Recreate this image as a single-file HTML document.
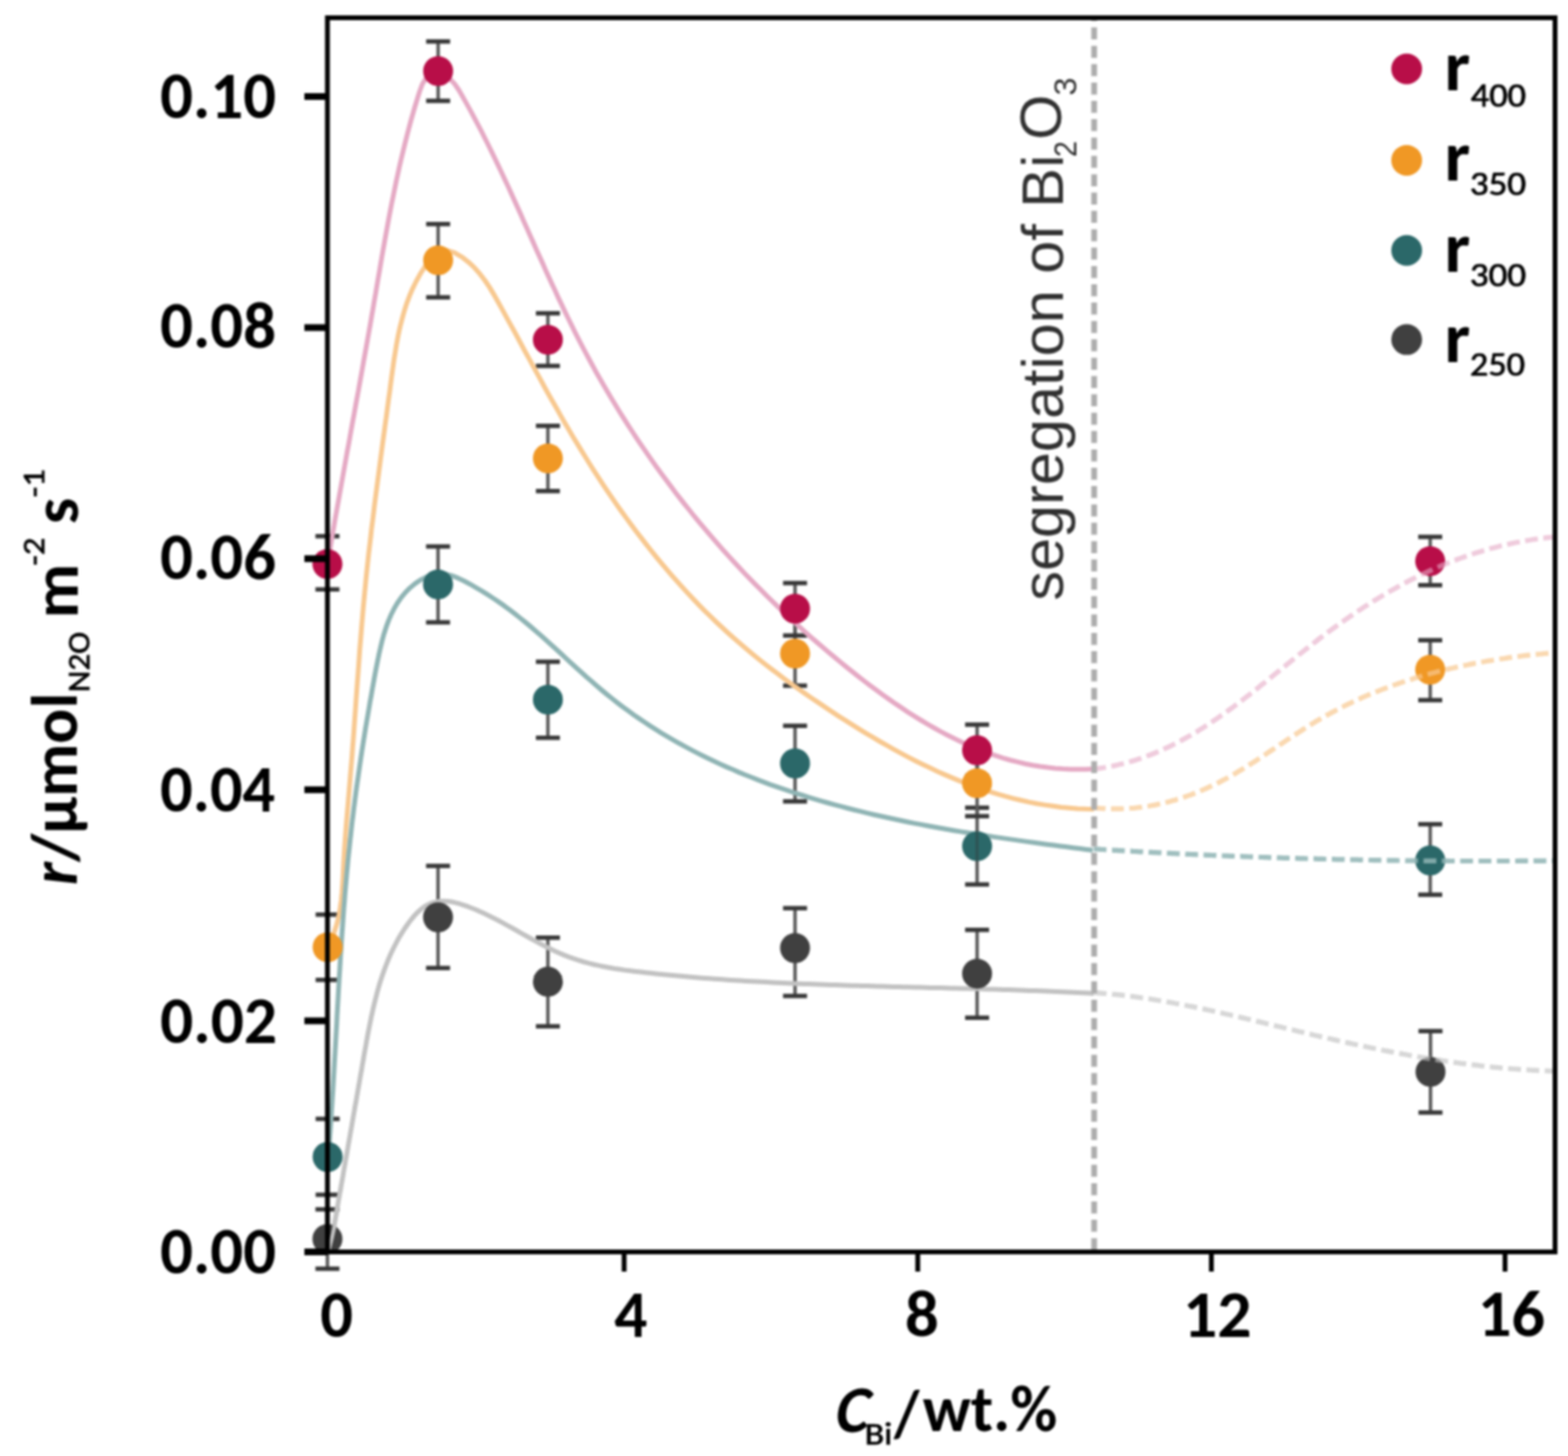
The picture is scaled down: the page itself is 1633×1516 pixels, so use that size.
<!DOCTYPE html>
<html><head><meta charset="utf-8"><title>Reaction rate vs Bi content</title>
<style>html,body{margin:0;padding:0;background:#fff;}svg{display:block;filter:blur(0.8px);}</style></head>
<body>
<svg width="1633" height="1516" viewBox="0 0 1633 1516">
<rect width="1633" height="1516" fill="#fff"/>
<line x1="341" y1="1259.2" x2="341" y2="1321" stroke="#5a5a5a" stroke-width="3.6"/>
<line x1="328.5" y1="1259.2" x2="353.5" y2="1259.2" stroke="#383838" stroke-width="4.6"/>
<line x1="328.5" y1="1321" x2="353.5" y2="1321" stroke="#383838" stroke-width="4.6"/>
<line x1="456.2" y1="901.6" x2="456.2" y2="1007.9" stroke="#5a5a5a" stroke-width="3.6"/>
<line x1="443.7" y1="901.6" x2="468.7" y2="901.6" stroke="#383838" stroke-width="4.6"/>
<line x1="443.7" y1="1007.9" x2="468.7" y2="1007.9" stroke="#383838" stroke-width="4.6"/>
<line x1="570.6" y1="976.3" x2="570.6" y2="1068.6" stroke="#5a5a5a" stroke-width="3.6"/>
<line x1="558.1" y1="976.3" x2="583.1" y2="976.3" stroke="#383838" stroke-width="4.6"/>
<line x1="558.1" y1="1068.6" x2="583.1" y2="1068.6" stroke="#383838" stroke-width="4.6"/>
<line x1="828" y1="945.6" x2="828" y2="1037" stroke="#5a5a5a" stroke-width="3.6"/>
<line x1="815.5" y1="945.6" x2="840.5" y2="945.6" stroke="#383838" stroke-width="4.6"/>
<line x1="815.5" y1="1037" x2="840.5" y2="1037" stroke="#383838" stroke-width="4.6"/>
<line x1="1017.6" y1="968.2" x2="1017.6" y2="1059.7" stroke="#5a5a5a" stroke-width="3.6"/>
<line x1="1005.1" y1="968.2" x2="1030.1" y2="968.2" stroke="#383838" stroke-width="4.6"/>
<line x1="1005.1" y1="1059.7" x2="1030.1" y2="1059.7" stroke="#383838" stroke-width="4.6"/>
<line x1="1489.8" y1="1073.6" x2="1489.8" y2="1158.4" stroke="#5a5a5a" stroke-width="3.6"/>
<line x1="1477.3" y1="1073.6" x2="1502.3" y2="1073.6" stroke="#383838" stroke-width="4.6"/>
<line x1="1477.3" y1="1158.4" x2="1502.3" y2="1158.4" stroke="#383838" stroke-width="4.6"/>
<line x1="341.2" y1="1165" x2="341.2" y2="1244" stroke="#5a5a5a" stroke-width="3.6"/>
<line x1="328.7" y1="1165" x2="353.7" y2="1165" stroke="#383838" stroke-width="4.6"/>
<line x1="328.7" y1="1244" x2="353.7" y2="1244" stroke="#383838" stroke-width="4.6"/>
<line x1="456.2" y1="569" x2="456.2" y2="648" stroke="#5a5a5a" stroke-width="3.6"/>
<line x1="443.7" y1="569" x2="468.7" y2="569" stroke="#383838" stroke-width="4.6"/>
<line x1="443.7" y1="648" x2="468.7" y2="648" stroke="#383838" stroke-width="4.6"/>
<line x1="570.6" y1="689" x2="570.6" y2="768.2" stroke="#5a5a5a" stroke-width="3.6"/>
<line x1="558.1" y1="689" x2="583.1" y2="689" stroke="#383838" stroke-width="4.6"/>
<line x1="558.1" y1="768.2" x2="583.1" y2="768.2" stroke="#383838" stroke-width="4.6"/>
<line x1="828" y1="755.7" x2="828" y2="834.4" stroke="#5a5a5a" stroke-width="3.6"/>
<line x1="815.5" y1="755.7" x2="840.5" y2="755.7" stroke="#383838" stroke-width="4.6"/>
<line x1="815.5" y1="834.4" x2="840.5" y2="834.4" stroke="#383838" stroke-width="4.6"/>
<line x1="1017.6" y1="841" x2="1017.6" y2="920.9" stroke="#5a5a5a" stroke-width="3.6"/>
<line x1="1005.1" y1="841" x2="1030.1" y2="841" stroke="#383838" stroke-width="4.6"/>
<line x1="1005.1" y1="920.9" x2="1030.1" y2="920.9" stroke="#383838" stroke-width="4.6"/>
<line x1="1489.5" y1="858.2" x2="1489.5" y2="931.6" stroke="#5a5a5a" stroke-width="3.6"/>
<line x1="1477.0" y1="858.2" x2="1502.0" y2="858.2" stroke="#383838" stroke-width="4.6"/>
<line x1="1477.0" y1="931.6" x2="1502.0" y2="931.6" stroke="#383838" stroke-width="4.6"/>
<line x1="341.2" y1="952.3" x2="341.2" y2="1020.3" stroke="#5a5a5a" stroke-width="3.6"/>
<line x1="328.7" y1="952.3" x2="353.7" y2="952.3" stroke="#383838" stroke-width="4.6"/>
<line x1="328.7" y1="1020.3" x2="353.7" y2="1020.3" stroke="#383838" stroke-width="4.6"/>
<line x1="456.3" y1="233.3" x2="456.3" y2="309.6" stroke="#5a5a5a" stroke-width="3.6"/>
<line x1="443.8" y1="233.3" x2="468.8" y2="233.3" stroke="#383838" stroke-width="4.6"/>
<line x1="443.8" y1="309.6" x2="468.8" y2="309.6" stroke="#383838" stroke-width="4.6"/>
<line x1="570.6" y1="443.4" x2="570.6" y2="511.3" stroke="#5a5a5a" stroke-width="3.6"/>
<line x1="558.1" y1="443.4" x2="583.1" y2="443.4" stroke="#383838" stroke-width="4.6"/>
<line x1="558.1" y1="511.3" x2="583.1" y2="511.3" stroke="#383838" stroke-width="4.6"/>
<line x1="828" y1="641" x2="828" y2="713.9" stroke="#5a5a5a" stroke-width="3.6"/>
<line x1="815.5" y1="641" x2="840.5" y2="641" stroke="#383838" stroke-width="4.6"/>
<line x1="815.5" y1="713.9" x2="840.5" y2="713.9" stroke="#383838" stroke-width="4.6"/>
<line x1="1017.6" y1="781.2" x2="1017.6" y2="849.8" stroke="#5a5a5a" stroke-width="3.6"/>
<line x1="1005.1" y1="781.2" x2="1030.1" y2="781.2" stroke="#383838" stroke-width="4.6"/>
<line x1="1005.1" y1="849.8" x2="1030.1" y2="849.8" stroke="#383838" stroke-width="4.6"/>
<line x1="1489.5" y1="666.6" x2="1489.5" y2="729" stroke="#5a5a5a" stroke-width="3.6"/>
<line x1="1477.0" y1="666.6" x2="1502.0" y2="666.6" stroke="#383838" stroke-width="4.6"/>
<line x1="1477.0" y1="729" x2="1502.0" y2="729" stroke="#383838" stroke-width="4.6"/>
<line x1="341" y1="558.3" x2="341" y2="613.7" stroke="#5a5a5a" stroke-width="3.6"/>
<line x1="328.5" y1="558.3" x2="353.5" y2="558.3" stroke="#383838" stroke-width="4.6"/>
<line x1="328.5" y1="613.7" x2="353.5" y2="613.7" stroke="#383838" stroke-width="4.6"/>
<line x1="456.3" y1="43.2" x2="456.3" y2="105" stroke="#5a5a5a" stroke-width="3.6"/>
<line x1="443.8" y1="43.2" x2="468.8" y2="43.2" stroke="#383838" stroke-width="4.6"/>
<line x1="443.8" y1="105" x2="468.8" y2="105" stroke="#383838" stroke-width="4.6"/>
<line x1="570.6" y1="326.2" x2="570.6" y2="381" stroke="#5a5a5a" stroke-width="3.6"/>
<line x1="558.1" y1="326.2" x2="583.1" y2="326.2" stroke="#383838" stroke-width="4.6"/>
<line x1="558.1" y1="381" x2="583.1" y2="381" stroke="#383838" stroke-width="4.6"/>
<line x1="828" y1="607.1" x2="828" y2="661.7" stroke="#5a5a5a" stroke-width="3.6"/>
<line x1="815.5" y1="607.1" x2="840.5" y2="607.1" stroke="#383838" stroke-width="4.6"/>
<line x1="815.5" y1="661.7" x2="840.5" y2="661.7" stroke="#383838" stroke-width="4.6"/>
<line x1="1017.6" y1="754.5" x2="1017.6" y2="807.9" stroke="#5a5a5a" stroke-width="3.6"/>
<line x1="1005.1" y1="754.5" x2="1030.1" y2="754.5" stroke="#383838" stroke-width="4.6"/>
<line x1="1005.1" y1="807.9" x2="1030.1" y2="807.9" stroke="#383838" stroke-width="4.6"/>
<line x1="1489.5" y1="559" x2="1489.5" y2="609.3" stroke="#5a5a5a" stroke-width="3.6"/>
<line x1="1477.0" y1="559" x2="1502.0" y2="559" stroke="#383838" stroke-width="4.6"/>
<line x1="1477.0" y1="609.3" x2="1502.0" y2="609.3" stroke="#383838" stroke-width="4.6"/>
<path d="M341.1,586.9 L342.4,579.1 L343.8,571.3 L345.1,563.5 L346.4,555.8 L347.8,548.0 L349.1,540.2 L350.5,532.4 L351.9,524.5 L353.3,516.7 L354.7,508.9 L356.1,501.1 L357.5,493.3 L358.9,485.4 L360.3,477.6 L361.7,469.8 L363.2,462.0 L364.6,454.1 L366.0,446.3 L367.4,438.5 L368.9,430.6 L370.3,422.8 L371.7,415.0 L373.2,407.1 L374.6,399.3 L376.0,391.5 L377.4,383.6 L378.8,375.8 L380.2,368.0 L381.6,360.2 L383.0,352.4 L384.4,344.6 L385.8,336.8 L387.1,329.0 L388.5,321.2 L389.8,313.4 L391.2,305.6 L392.5,297.9 L393.8,290.1 L395.2,282.3 L396.5,274.6 L397.8,266.8 L399.2,259.0 L400.6,251.3 L402.0,243.5 L403.4,235.7 L404.8,228.0 L406.3,220.2 L407.8,212.4 L409.4,204.7 L411.0,196.9 L412.6,189.1 L414.3,181.3 L416.0,173.5 L417.8,165.7 L419.7,157.9 L421.6,150.1 L423.6,142.2 L425.6,134.4 L427.7,126.5 L429.9,118.7 L432.2,110.8 L434.6,102.9 L437.1,95.0 L439.9,87.5 L443.8,81.3 L449.1,77.1 L455.4,75.8 L462.0,77.6 L468.2,81.8 L473.5,87.4 L478.0,94.0 L482.0,100.9 L485.9,107.9 L489.8,114.9 L493.6,122.0 L497.4,129.1 L501.1,136.2 L504.7,143.3 L508.3,150.5 L511.8,157.7 L515.3,164.9 L518.8,172.1 L522.2,179.3 L525.6,186.6 L529.0,193.8 L532.3,201.1 L535.6,208.4 L538.9,215.6 L542.2,222.9 L545.4,230.2 L548.7,237.5 L551.9,244.8 L555.2,252.1 L558.4,259.4 L561.7,266.6 L565.0,273.9 L568.2,281.2 L571.5,288.4 L574.8,295.6 L578.2,302.8 L581.5,310.1 L584.9,317.2 L588.3,324.4 L591.8,331.5 L595.3,338.7 L598.8,345.8 L602.4,352.8 L606.0,359.9 L609.7,366.9 L613.4,373.8 L617.2,380.8 L621.0,387.7 L624.9,394.6 L628.9,401.4 L632.9,408.3 L636.9,415.0 L641.0,421.8 L645.1,428.5 L649.3,435.2 L653.6,441.9 L657.9,448.5 L662.2,455.1 L666.6,461.7 L671.1,468.2 L675.6,474.7 L680.1,481.1 L684.7,487.6 L689.4,493.9 L694.1,500.3 L698.8,506.6 L703.6,512.9 L708.4,519.1 L713.3,525.4 L718.3,531.5 L723.2,537.7 L728.3,543.8 L733.4,549.9 L738.5,555.9 L743.7,561.9 L748.9,567.8 L754.1,573.8 L759.4,579.6 L764.8,585.5 L770.2,591.3 L775.6,597.1 L781.1,602.8 L786.7,608.5 L792.3,614.1 L797.9,619.8 L803.5,625.3 L809.3,630.9 L815.0,636.4 L820.8,641.8 L826.7,647.2 L832.6,652.6 L838.5,658.0 L844.5,663.3 L850.5,668.5 L856.5,673.7 L862.6,678.9 L868.8,684.0 L875.0,689.1 L881.2,694.2 L887.5,699.2 L893.8,704.2 L900.1,709.1 L906.5,713.9 L913.0,718.7 L919.4,723.5 L926.0,728.1 L932.5,732.7 L939.2,737.2 L945.8,741.6 L952.6,745.9 L959.3,750.0 L966.2,754.1 L973.0,758.0 L980.0,761.9 L986.9,765.5 L994.0,769.1 L1001.1,772.5 L1008.2,775.7 L1015.4,778.8 L1022.7,781.7 L1030.0,784.4 L1037.4,786.9 L1044.9,789.3 L1052.4,791.5 L1060.0,793.4 L1067.6,795.2 L1075.3,796.7 L1083.1,798.0 L1090.9,799.1 L1098.8,800.0 L1106.8,800.6 L1114.8,800.9 L1123.0,801.0 L1131.2,800.9 L1139.4,800.5" fill="none" stroke="#e5a9c4" stroke-width="5" stroke-linejoin="round"/>
<path d="M341.0,986.0 L344.9,978.4 L348.1,970.6 L350.7,962.6 L352.7,954.4 L354.2,946.2 L355.4,937.8 L356.2,929.3 L356.8,920.8 L357.3,912.3 L357.7,903.8 L358.1,895.3 L358.6,886.8 L359.2,878.3 L359.8,869.9 L360.4,861.5 L361.1,853.2 L361.8,844.8 L362.5,836.4 L363.2,828.1 L363.9,819.7 L364.6,811.3 L365.3,803.0 L366.0,794.6 L366.7,786.2 L367.3,777.8 L368.0,769.3 L368.6,760.9 L369.2,752.4 L369.8,744.0 L370.4,735.5 L371.0,727.0 L371.6,718.6 L372.2,710.1 L372.9,701.6 L373.5,693.1 L374.1,684.7 L374.7,676.2 L375.4,667.7 L376.1,659.3 L376.8,650.8 L377.5,642.4 L378.2,634.0 L379.0,625.5 L379.8,617.1 L380.6,608.7 L381.4,600.4 L382.3,592.0 L383.2,583.6 L384.1,575.3 L385.1,567.0 L386.1,558.6 L387.0,550.3 L388.1,542.0 L389.1,533.7 L390.1,525.3 L391.2,517.0 L392.3,508.7 L393.4,500.4 L394.5,492.0 L395.6,483.7 L396.7,475.3 L397.8,467.0 L398.9,458.6 L400.1,450.2 L401.2,441.8 L402.4,433.4 L403.5,425.0 L404.6,416.5 L405.8,408.1 L406.9,399.6 L408.0,391.1 L409.2,382.6 L410.4,374.1 L411.8,365.6 L413.2,357.2 L414.8,348.8 L416.6,340.5 L418.7,332.3 L421.0,324.1 L423.5,316.1 L426.4,308.3 L429.7,300.6 L433.4,293.0 L437.4,285.7 L442.0,278.5 L447.0,271.6 L452.6,265.6 L458.8,261.7 L465.9,260.8 L473.4,263.1 L481.0,267.6 L487.9,272.9 L494.2,278.8 L499.8,285.2 L505.0,292.0 L509.8,299.1 L514.2,306.4 L518.5,313.9 L522.6,321.4 L526.7,328.9 L530.8,336.4 L534.9,343.8 L539.0,351.3 L543.0,358.7 L547.0,366.2 L551.1,373.6 L555.1,381.0 L559.1,388.4 L563.2,395.8 L567.2,403.2 L571.3,410.5 L575.4,417.8 L579.6,425.1 L583.7,432.4 L587.9,439.7 L592.2,447.0 L596.4,454.2 L600.8,461.4 L605.2,468.6 L609.6,475.8 L614.1,483.0 L618.6,490.1 L623.2,497.2 L627.9,504.3 L632.6,511.3 L637.4,518.3 L642.2,525.3 L647.1,532.2 L652.1,539.1 L657.1,545.9 L662.1,552.7 L667.3,559.4 L672.5,566.1 L677.7,572.8 L683.0,579.4 L688.4,585.9 L693.9,592.4 L699.4,598.8 L705.0,605.1 L710.6,611.4 L716.3,617.6 L722.1,623.8 L728.0,629.9 L733.9,635.9 L739.9,641.8 L745.9,647.6 L752.1,653.4 L758.3,659.1 L764.5,664.7 L770.9,670.2 L777.3,675.7 L783.8,681.1 L790.3,686.4 L796.9,691.6 L803.6,696.8 L810.3,701.8 L817.1,706.9 L823.9,711.9 L830.8,716.8 L837.7,721.6 L844.7,726.5 L851.7,731.2 L858.7,735.9 L865.8,740.6 L872.9,745.3 L880.1,749.9 L887.2,754.4 L894.4,758.9 L901.7,763.3 L909.0,767.7 L916.3,772.0 L923.7,776.2 L931.1,780.4 L938.5,784.4 L946.0,788.4 L953.5,792.2 L961.1,796.0 L968.7,799.6 L976.3,803.2 L984.0,806.6 L991.7,809.9 L999.5,813.1 L1007.3,816.1 L1015.2,819.0 L1023.1,821.8 L1031.1,824.4 L1039.1,826.9 L1047.2,829.2 L1055.3,831.3 L1063.5,833.3 L1071.7,835.1 L1079.9,836.7 L1088.3,838.1 L1096.6,839.3 L1105.0,840.4 L1113.5,841.2 L1122.1,841.9 L1130.7,842.3 L1139.3,842.5" fill="none" stroke="#f8c88f" stroke-width="5" stroke-linejoin="round"/>
<path d="M341.8,1204.9 L342.3,1198.0 L342.9,1191.1 L343.4,1184.2 L343.9,1177.2 L344.4,1170.3 L344.9,1163.4 L345.3,1156.4 L345.8,1149.4 L346.2,1142.4 L346.7,1135.4 L347.1,1128.5 L347.5,1121.4 L347.9,1114.4 L348.3,1107.4 L348.7,1100.4 L349.1,1093.4 L349.5,1086.3 L349.9,1079.3 L350.3,1072.2 L350.7,1065.2 L351.0,1058.1 L351.4,1051.1 L351.8,1044.0 L352.2,1037.0 L352.6,1029.9 L353.0,1022.9 L353.4,1015.9 L353.9,1008.8 L354.3,1001.8 L354.7,994.7 L355.2,987.7 L355.6,980.7 L356.1,973.6 L356.6,966.6 L357.1,959.6 L357.6,952.6 L358.1,945.6 L358.7,938.6 L359.2,931.6 L359.8,924.6 L360.4,917.7 L361.0,910.7 L361.7,903.8 L362.3,896.9 L363.0,890.0 L363.8,883.0 L364.5,876.1 L365.3,869.3 L366.0,862.4 L366.8,855.5 L367.7,848.6 L368.5,841.7 L369.4,834.9 L370.3,828.0 L371.2,821.1 L372.2,814.2 L373.2,807.3 L374.2,800.4 L375.2,793.5 L376.2,786.6 L377.3,779.7 L378.4,772.7 L379.5,765.8 L380.6,758.8 L381.8,751.8 L383.0,744.8 L384.2,737.8 L385.4,730.7 L386.7,723.7 L387.9,716.6 L389.2,709.5 L390.5,702.3 L391.9,695.1 L393.3,687.9 L394.8,680.8 L396.4,673.7 L398.1,666.6 L400.0,659.7 L402.2,652.9 L404.6,646.4 L407.3,640.0 L410.4,633.8 L413.8,628.0 L417.7,622.4 L421.9,617.2 L426.7,612.3 L432.0,607.9 L437.7,604.0 L443.7,600.9 L450.0,598.7 L456.6,597.6 L463.2,597.8 L469.8,599.2 L476.5,601.7 L483.0,604.8 L489.5,608.2 L495.8,611.8 L501.9,615.4 L507.9,619.2 L513.8,623.0 L519.6,626.9 L525.3,630.9 L530.9,635.1 L536.4,639.3 L541.9,643.6 L547.3,648.0 L552.7,652.5 L558.0,657.1 L563.3,661.7 L568.6,666.4 L573.8,671.1 L579.1,675.9 L584.3,680.7 L589.5,685.5 L594.8,690.3 L600.0,695.1 L605.3,699.8 L610.5,704.6 L615.8,709.2 L621.2,713.9 L626.6,718.5 L632.0,723.0 L637.5,727.4 L643.0,731.7 L648.6,735.9 L654.2,740.1 L659.9,744.2 L665.6,748.1 L671.4,752.0 L677.2,755.9 L683.1,759.6 L689.0,763.3 L695.0,766.8 L701.0,770.3 L707.0,773.8 L713.1,777.1 L719.2,780.4 L725.4,783.6 L731.6,786.7 L737.8,789.8 L744.1,792.8 L750.4,795.7 L756.8,798.6 L763.2,801.3 L769.6,804.1 L776.0,806.7 L782.5,809.3 L789.0,811.9 L795.6,814.3 L802.1,816.8 L808.7,819.1 L815.4,821.4 L822.0,823.7 L828.7,825.8 L835.4,828.0 L842.1,830.1 L848.8,832.1 L855.6,834.1 L862.3,836.0 L869.1,837.9 L876.0,839.7 L882.8,841.5 L889.6,843.2 L896.5,844.9 L903.4,846.6 L910.2,848.2 L917.1,849.8 L924.0,851.3 L930.9,852.8 L937.9,854.3 L944.8,855.7 L951.7,857.1 L958.7,858.4 L965.6,859.7 L972.6,861.0 L979.5,862.3 L986.5,863.5 L993.4,864.7 L1000.4,865.9 L1007.4,867.0 L1014.3,868.2 L1021.3,869.3 L1028.2,870.3 L1035.2,871.4 L1042.1,872.4 L1049.0,873.4 L1055.9,874.4 L1062.8,875.4 L1069.8,876.4 L1076.6,877.3 L1083.5,878.2 L1090.4,879.2 L1097.2,880.1 L1104.1,881.0 L1110.9,881.8 L1117.7,882.7 L1124.5,883.6 L1131.3,884.5 L1138.0,885.3" fill="none" stroke="#8fb4b4" stroke-width="5" stroke-linejoin="round"/>
<path d="M343.0,1303.5 L344.0,1298.0 L345.0,1292.5 L346.0,1287.0 L346.9,1281.5 L347.9,1276.1 L348.9,1270.6 L349.9,1265.2 L350.8,1259.8 L351.8,1254.4 L352.7,1249.0 L353.7,1243.6 L354.7,1238.2 L355.6,1232.8 L356.6,1227.5 L357.5,1222.1 L358.4,1216.7 L359.4,1211.4 L360.3,1206.0 L361.3,1200.7 L362.2,1195.4 L363.1,1190.0 L364.1,1184.7 L365.0,1179.3 L366.0,1174.0 L366.9,1168.6 L367.8,1163.3 L368.8,1157.9 L369.7,1152.5 L370.7,1147.2 L371.6,1141.8 L372.6,1136.4 L373.5,1131.0 L374.5,1125.6 L375.4,1120.2 L376.4,1114.7 L377.3,1109.3 L378.3,1103.8 L379.2,1098.3 L380.2,1092.9 L381.2,1087.4 L382.2,1081.8 L383.2,1076.3 L384.3,1070.8 L385.4,1065.3 L386.5,1059.8 L387.7,1054.4 L388.9,1048.9 L390.2,1043.5 L391.6,1038.1 L393.0,1032.7 L394.5,1027.3 L396.1,1022.0 L397.8,1016.8 L399.6,1011.6 L401.5,1006.4 L403.5,1001.3 L405.6,996.3 L407.8,991.3 L410.2,986.4 L412.7,981.6 L415.3,976.8 L418.1,972.1 L421.0,967.5 L424.1,963.0 L427.3,958.6 L430.8,954.3 L434.4,950.4 L438.3,946.8 L442.4,943.8 L446.8,941.4 L451.5,939.6 L456.4,938.6 L461.5,938.2 L466.7,938.5 L472.0,939.3 L477.3,940.7 L482.7,942.3 L488.0,944.2 L493.3,946.3 L498.4,948.4 L503.6,950.8 L508.6,953.2 L513.7,955.7 L518.7,958.2 L523.6,960.9 L528.5,963.6 L533.4,966.3 L538.3,969.0 L543.2,971.8 L548.0,974.5 L552.9,977.2 L557.7,979.9 L562.6,982.5 L567.5,985.1 L572.4,987.6 L577.3,989.9 L582.3,992.2 L587.3,994.4 L592.4,996.4 L597.5,998.2 L602.7,999.9 L607.9,1001.5 L613.1,1002.9 L618.4,1004.2 L623.7,1005.4 L629.1,1006.5 L634.5,1007.5 L639.9,1008.5 L645.3,1009.3 L650.8,1010.1 L656.3,1010.8 L661.7,1011.5 L667.2,1012.1 L672.7,1012.7 L678.2,1013.3 L683.7,1013.9 L689.2,1014.5 L694.7,1015.0 L700.1,1015.5 L705.6,1016.1 L711.1,1016.6 L716.6,1017.0 L722.1,1017.5 L727.6,1018.0 L733.1,1018.4 L738.5,1018.8 L744.0,1019.2 L749.5,1019.6 L755.0,1020.0 L760.5,1020.4 L766.0,1020.7 L771.4,1021.1 L776.9,1021.4 L782.4,1021.7 L787.9,1022.0 L793.4,1022.3 L798.8,1022.6 L804.3,1022.9 L809.8,1023.2 L815.3,1023.4 L820.8,1023.7 L826.3,1023.9 L831.7,1024.2 L837.2,1024.4 L842.7,1024.6 L848.2,1024.8 L853.7,1025.0 L859.1,1025.2 L864.6,1025.4 L870.1,1025.6 L875.6,1025.8 L881.1,1026.0 L886.6,1026.2 L892.0,1026.3 L897.5,1026.5 L903.0,1026.6 L908.5,1026.8 L914.0,1027.0 L919.4,1027.1 L924.9,1027.2 L930.4,1027.4 L935.9,1027.5 L941.4,1027.7 L946.9,1027.8 L952.3,1027.9 L957.8,1028.1 L963.3,1028.2 L968.8,1028.4 L974.3,1028.5 L979.8,1028.6 L985.3,1028.8 L990.7,1028.9 L996.2,1029.0 L1001.7,1029.2 L1007.2,1029.3 L1012.7,1029.5 L1018.2,1029.6 L1023.7,1029.8 L1029.1,1030.0 L1034.6,1030.1 L1040.1,1030.3 L1045.6,1030.5 L1051.1,1030.6 L1056.6,1030.8 L1062.1,1031.0 L1067.6,1031.2 L1073.1,1031.4 L1078.6,1031.6 L1084.1,1031.8 L1089.6,1032.0 L1095.0,1032.3 L1100.5,1032.5 L1106.0,1032.7 L1111.5,1033.0 L1117.0,1033.3 L1122.5,1033.5 L1128.0,1033.8 L1133.5,1034.1 L1139.0,1034.4" fill="none" stroke="#c2c2c2" stroke-width="5" stroke-linejoin="round"/>
<circle cx="341" cy="1290" r="15.6" fill="#404040"/>
<circle cx="456.2" cy="955.1" r="15.6" fill="#404040"/>
<circle cx="570.6" cy="1022.2" r="15.6" fill="#404040"/>
<circle cx="828" cy="987.1" r="15.6" fill="#404040"/>
<circle cx="1017.6" cy="1013.8" r="15.6" fill="#404040"/>
<circle cx="1489.8" cy="1116" r="15.6" fill="#404040"/>
<circle cx="341.2" cy="1204.6" r="15.6" fill="#2b6869"/>
<circle cx="456.2" cy="608.5" r="15.6" fill="#2b6869"/>
<circle cx="570.6" cy="728.5" r="15.6" fill="#2b6869"/>
<circle cx="828" cy="794.9" r="15.6" fill="#2b6869"/>
<circle cx="1017.6" cy="881" r="15.6" fill="#2b6869"/>
<circle cx="1489.5" cy="895.9" r="15.6" fill="#2b6869"/>
<circle cx="341.2" cy="986.3" r="15.6" fill="#f09825"/>
<circle cx="456.3" cy="271" r="15.6" fill="#f09825"/>
<circle cx="570.6" cy="477.3" r="15.6" fill="#f09825"/>
<circle cx="828" cy="680.5" r="15.6" fill="#f09825"/>
<circle cx="1017.6" cy="815.5" r="15.6" fill="#f09825"/>
<circle cx="1489.5" cy="697.3" r="15.6" fill="#f09825"/>
<circle cx="341" cy="587.3" r="15.6" fill="#b80e48"/>
<circle cx="456.3" cy="74" r="15.6" fill="#b80e48"/>
<circle cx="570.6" cy="353.8" r="15.6" fill="#b80e48"/>
<circle cx="828" cy="633.8" r="15.6" fill="#b80e48"/>
<circle cx="1017.6" cy="781.2" r="15.6" fill="#b80e48"/>
<circle cx="1489.5" cy="584.3" r="15.6" fill="#b80e48"/>
<path d="M342,1303 C344,1296 346.5,1287 348.5,1276 L351.5,1259" fill="none" stroke="#c2c2c2" stroke-width="4"/>
<line x1="1017.6" y1="866" x2="1017.6" y2="896" stroke="#2f4f4f" stroke-width="3" opacity="0.8"/>
<path d="M1138.5,800.8 L1141.4,800.4 L1144.2,800.1 L1147.1,799.7 L1149.9,799.2 L1152.7,798.7 L1155.5,798.2 L1158.3,797.7 L1161.0,797.1 L1163.8,796.5 L1166.5,795.8 L1169.2,795.2 L1171.9,794.5 L1174.5,793.8 L1177.2,793.0 L1179.8,792.2 L1182.5,791.4 L1185.1,790.6 L1187.7,789.7 L1190.3,788.8 L1192.8,787.9 L1195.4,786.9 L1197.9,786.0 L1200.4,785.0 L1203.0,784.0 L1205.5,782.9 L1208.0,781.8 L1210.4,780.8 L1212.9,779.6 L1215.4,778.5 L1217.8,777.3 L1220.2,776.2 L1222.6,775.0 L1225.1,773.7 L1227.4,772.5 L1229.8,771.2 L1232.2,769.9 L1234.6,768.6 L1236.9,767.3 L1239.3,766.0 L1241.6,764.6 L1243.9,763.2 L1246.3,761.9 L1248.6,760.4 L1250.9,759.0 L1253.2,757.6 L1255.4,756.1 L1257.7,754.7 L1260.0,753.2 L1262.2,751.7 L1264.5,750.1 L1266.7,748.6 L1269.0,747.1 L1271.2,745.5 L1273.4,744.0 L1275.7,742.4 L1277.9,740.8 L1280.1,739.2 L1282.3,737.6 L1284.5,736.0 L1286.7,734.3 L1288.9,732.7 L1291.1,731.0 L1293.2,729.4 L1295.4,727.7 L1297.6,726.0 L1299.8,724.4 L1301.9,722.7 L1304.1,721.0 L1306.2,719.3 L1308.4,717.6 L1310.5,715.9 L1312.7,714.1 L1314.8,712.4 L1317.0,710.7 L1319.1,709.0 L1321.3,707.3 L1323.4,705.5 L1325.6,703.8 L1327.7,702.0 L1329.9,700.3 L1332.0,698.6 L1334.1,696.8 L1336.3,695.1 L1338.4,693.4 L1340.6,691.6 L1342.7,689.9 L1344.9,688.1 L1347.0,686.4 L1349.1,684.7 L1351.3,683.0 L1353.4,681.2 L1355.6,679.5 L1357.8,677.8 L1359.9,676.1 L1362.1,674.4 L1364.2,672.7 L1366.4,671.0 L1368.6,669.3 L1370.8,667.6 L1372.9,665.9 L1375.1,664.2 L1377.3,662.6 L1379.5,660.9 L1381.7,659.3 L1383.9,657.6 L1386.1,656.0 L1388.3,654.4 L1390.5,652.8 L1392.8,651.2 L1395.0,649.6 L1397.2,648.0 L1399.5,646.4 L1401.7,644.8 L1404.0,643.3 L1406.2,641.7 L1408.5,640.2 L1410.7,638.7 L1413.0,637.1 L1415.3,635.6 L1417.6,634.1 L1419.8,632.6 L1422.1,631.1 L1424.4,629.7 L1426.7,628.2 L1429.0,626.8 L1431.3,625.3 L1433.7,623.9 L1436.0,622.5 L1438.3,621.1 L1440.6,619.7 L1443.0,618.3 L1445.3,616.9 L1447.7,615.6 L1450.1,614.2 L1452.4,612.9 L1454.8,611.6 L1457.2,610.3 L1459.6,609.0 L1461.9,607.7 L1464.3,606.4 L1466.7,605.2 L1469.2,603.9 L1471.6,602.7 L1474.0,601.5 L1476.4,600.3 L1478.9,599.1 L1481.3,597.9 L1483.8,596.8 L1486.2,595.6 L1488.7,594.5 L1491.2,593.4 L1493.6,592.3 L1496.1,591.2 L1498.6,590.1 L1501.1,589.0 L1503.6,588.0 L1506.1,586.9 L1508.6,585.9 L1511.2,584.9 L1513.7,583.9 L1516.3,583.0 L1518.8,582.0 L1521.4,581.1 L1523.9,580.2 L1526.5,579.3 L1529.1,578.4 L1531.7,577.5 L1534.3,576.6 L1536.9,575.8 L1539.5,575.0 L1542.1,574.2 L1544.7,573.4 L1547.4,572.6 L1550.0,571.9 L1552.7,571.1 L1555.3,570.4 L1558.0,569.7 L1560.7,569.0 L1563.4,568.3 L1566.0,567.7 L1568.7,567.1 L1571.5,566.5 L1574.2,565.9 L1576.9,565.3 L1579.6,564.7 L1582.4,564.2 L1585.1,563.7 L1587.9,563.2 L1590.7,562.7 L1593.4,562.3 L1596.2,561.8 L1599.0,561.4 L1601.8,561.0 L1604.7,560.6 L1607.5,560.3 L1610.3,559.9 L1613.2,559.6 L1616.0,559.3 L1618.9,559.0" fill="none" stroke="#e5a9c4" stroke-opacity="0.6" stroke-width="5.2" stroke-dasharray="13.4 5.7"/>
<path d="M1138.0,840.9 L1140.8,841.2 L1143.5,841.5 L1146.3,841.7 L1149.0,841.8 L1151.8,842.0 L1154.5,842.1 L1157.2,842.1 L1159.9,842.2 L1162.6,842.2 L1165.2,842.2 L1167.9,842.1 L1170.6,842.0 L1173.2,841.9 L1175.8,841.7 L1178.5,841.5 L1181.1,841.3 L1183.7,841.0 L1186.3,840.7 L1188.9,840.4 L1191.4,840.0 L1194.0,839.7 L1196.6,839.3 L1199.1,838.8 L1201.7,838.4 L1204.2,837.9 L1206.7,837.3 L1209.2,836.8 L1211.7,836.2 L1214.2,835.6 L1216.7,834.9 L1219.2,834.3 L1221.6,833.6 L1224.1,832.9 L1226.5,832.1 L1229.0,831.4 L1231.4,830.6 L1233.8,829.8 L1236.2,828.9 L1238.6,828.1 L1241.0,827.2 L1243.4,826.3 L1245.8,825.3 L1248.2,824.4 L1250.5,823.4 L1252.9,822.4 L1255.2,821.4 L1257.5,820.3 L1259.9,819.2 L1262.2,818.2 L1264.5,817.0 L1266.8,815.9 L1269.1,814.8 L1271.4,813.6 L1273.6,812.4 L1275.9,811.2 L1278.2,810.0 L1280.4,808.7 L1282.6,807.5 L1284.9,806.2 L1287.1,804.9 L1289.3,803.6 L1291.5,802.3 L1293.7,801.0 L1295.9,799.6 L1298.1,798.2 L1300.3,796.9 L1302.5,795.5 L1304.7,794.1 L1306.9,792.7 L1309.0,791.3 L1311.2,789.9 L1313.4,788.5 L1315.6,787.0 L1317.7,785.6 L1319.9,784.2 L1322.0,782.7 L1324.2,781.3 L1326.4,779.9 L1328.5,778.4 L1330.7,777.0 L1332.8,775.5 L1335.0,774.1 L1337.2,772.6 L1339.3,771.2 L1341.5,769.7 L1343.7,768.3 L1345.8,766.9 L1348.0,765.4 L1350.2,764.0 L1352.3,762.6 L1354.5,761.2 L1356.7,759.8 L1358.9,758.4 L1361.1,757.0 L1363.3,755.6 L1365.5,754.3 L1367.7,752.9 L1369.9,751.6 L1372.1,750.3 L1374.4,749.0 L1376.6,747.7 L1378.8,746.4 L1381.1,745.1 L1383.4,743.9 L1385.6,742.6 L1387.9,741.4 L1390.2,740.2 L1392.4,739.0 L1394.7,737.8 L1397.0,736.6 L1399.3,735.5 L1401.6,734.3 L1404.0,733.2 L1406.3,732.1 L1408.6,731.0 L1410.9,729.9 L1413.3,728.8 L1415.6,727.8 L1418.0,726.7 L1420.3,725.7 L1422.7,724.7 L1425.0,723.7 L1427.4,722.7 L1429.8,721.7 L1432.2,720.7 L1434.6,719.8 L1437.0,718.8 L1439.4,717.9 L1441.8,717.0 L1444.2,716.1 L1446.6,715.2 L1449.0,714.3 L1451.4,713.4 L1453.8,712.6 L1456.3,711.7 L1458.7,710.9 L1461.2,710.1 L1463.6,709.2 L1466.1,708.4 L1468.5,707.7 L1471.0,706.9 L1473.4,706.1 L1475.9,705.4 L1478.4,704.6 L1480.8,703.9 L1483.3,703.2 L1485.8,702.5 L1488.3,701.8 L1490.8,701.1 L1493.3,700.4 L1495.8,699.8 L1498.3,699.1 L1500.8,698.5 L1503.3,697.9 L1505.8,697.2 L1508.3,696.6 L1510.8,696.0 L1513.4,695.5 L1515.9,694.9 L1518.4,694.3 L1521.0,693.8 L1523.5,693.2 L1526.0,692.7 L1528.6,692.2 L1531.1,691.6 L1533.7,691.1 L1536.2,690.6 L1538.7,690.2 L1541.3,689.7 L1543.9,689.2 L1546.4,688.8 L1549.0,688.3 L1551.5,687.9 L1554.1,687.5 L1556.7,687.0 L1559.2,686.6 L1561.8,686.2 L1564.4,685.8 L1566.9,685.5 L1569.5,685.1 L1572.1,684.7 L1574.7,684.4 L1577.2,684.0 L1579.8,683.7 L1582.4,683.4 L1585.0,683.0 L1587.6,682.7 L1590.2,682.4 L1592.7,682.1 L1595.3,681.8 L1597.9,681.6 L1600.5,681.3 L1603.1,681.0 L1605.7,680.8 L1608.3,680.5 L1610.9,680.3 L1613.5,680.1 L1616.1,679.8 L1618.7,679.6" fill="none" stroke="#f8c88f" stroke-opacity="0.7" stroke-width="5.2" stroke-dasharray="13.4 5.7"/>
<path d="M1139.0,883.9 L1141.4,884.1 L1143.8,884.2 L1146.2,884.4 L1148.6,884.5 L1151.0,884.7 L1153.4,884.8 L1155.8,885.0 L1158.2,885.1 L1160.7,885.3 L1163.1,885.4 L1165.5,885.6 L1167.9,885.7 L1170.3,885.8 L1172.7,886.0 L1175.1,886.1 L1177.5,886.2 L1179.9,886.4 L1182.3,886.5 L1184.7,886.7 L1187.1,886.8 L1189.5,886.9 L1191.9,887.1 L1194.3,887.2 L1196.7,887.3 L1199.1,887.4 L1201.5,887.6 L1203.9,887.7 L1206.3,887.8 L1208.7,887.9 L1211.1,888.1 L1213.6,888.2 L1216.0,888.3 L1218.4,888.4 L1220.8,888.6 L1223.2,888.7 L1225.6,888.8 L1228.0,888.9 L1230.4,889.0 L1232.8,889.1 L1235.2,889.3 L1237.6,889.4 L1240.0,889.5 L1242.4,889.6 L1244.8,889.7 L1247.2,889.8 L1249.6,889.9 L1252.0,890.0 L1254.4,890.1 L1256.9,890.3 L1259.3,890.4 L1261.7,890.5 L1264.1,890.6 L1266.5,890.7 L1268.9,890.8 L1271.3,890.9 L1273.7,891.0 L1276.1,891.1 L1278.5,891.2 L1280.9,891.3 L1283.3,891.4 L1285.7,891.5 L1288.1,891.6 L1290.5,891.7 L1292.9,891.7 L1295.4,891.8 L1297.8,891.9 L1300.2,892.0 L1302.6,892.1 L1305.0,892.2 L1307.4,892.3 L1309.8,892.4 L1312.2,892.5 L1314.6,892.5 L1317.0,892.6 L1319.4,892.7 L1321.8,892.8 L1324.2,892.9 L1326.6,893.0 L1329.0,893.0 L1331.5,893.1 L1333.9,893.2 L1336.3,893.3 L1338.7,893.3 L1341.1,893.4 L1343.5,893.5 L1345.9,893.6 L1348.3,893.6 L1350.7,893.7 L1353.1,893.8 L1355.5,893.8 L1357.9,893.9 L1360.3,894.0 L1362.7,894.0 L1365.1,894.1 L1367.6,894.2 L1370.0,894.2 L1372.4,894.3 L1374.8,894.4 L1377.2,894.4 L1379.6,894.5 L1382.0,894.5 L1384.4,894.6 L1386.8,894.7 L1389.2,894.7 L1391.6,894.8 L1394.0,894.8 L1396.4,894.9 L1398.9,894.9 L1401.3,895.0 L1403.7,895.0 L1406.1,895.1 L1408.5,895.1 L1410.9,895.2 L1413.3,895.2 L1415.7,895.3 L1418.1,895.3 L1420.5,895.4 L1422.9,895.4 L1425.3,895.5 L1427.7,895.5 L1430.2,895.6 L1432.6,895.6 L1435.0,895.6 L1437.4,895.7 L1439.8,895.7 L1442.2,895.8 L1444.6,895.8 L1447.0,895.8 L1449.4,895.9 L1451.8,895.9 L1454.2,895.9 L1456.6,896.0 L1459.1,896.0 L1461.5,896.0 L1463.9,896.1 L1466.3,896.1 L1468.7,896.1 L1471.1,896.1 L1473.5,896.2 L1475.9,896.2 L1478.3,896.2 L1480.7,896.2 L1483.1,896.3 L1485.5,896.3 L1487.9,896.3 L1490.4,896.3 L1492.8,896.3 L1495.2,896.4 L1497.6,896.4 L1500.0,896.4 L1502.4,896.4 L1504.8,896.4 L1507.2,896.4 L1509.6,896.5 L1512.0,896.5 L1514.4,896.5 L1516.8,896.5 L1519.3,896.5 L1521.7,896.5 L1524.1,896.5 L1526.5,896.5 L1528.9,896.5 L1531.3,896.5 L1533.7,896.5 L1536.1,896.5 L1538.5,896.5 L1540.9,896.5 L1543.3,896.5 L1545.7,896.5 L1548.2,896.5 L1550.6,896.5 L1553.0,896.5 L1555.4,896.5 L1557.8,896.5 L1560.2,896.5 L1562.6,896.5 L1565.0,896.5 L1567.4,896.5 L1569.8,896.5 L1572.2,896.5 L1574.6,896.5 L1577.1,896.5 L1579.5,896.5 L1581.9,896.4 L1584.3,896.4 L1586.7,896.4 L1589.1,896.4 L1591.5,896.4 L1593.9,896.4 L1596.3,896.4 L1598.7,896.3 L1601.1,896.3 L1603.6,896.3 L1606.0,896.3 L1608.4,896.3 L1610.8,896.2 L1613.2,896.2 L1615.6,896.2 L1618.0,896.2" fill="none" stroke="#8fb4b4" stroke-opacity="0.85" stroke-width="5.2" stroke-dasharray="13.4 5.7"/>
<path d="M1139.1,1033.5 L1141.5,1033.7 L1144.0,1033.9 L1146.4,1034.1 L1148.9,1034.3 L1151.3,1034.5 L1153.8,1034.7 L1156.2,1034.9 L1158.6,1035.2 L1161.1,1035.4 L1163.5,1035.7 L1166.0,1035.9 L1168.4,1036.2 L1170.8,1036.5 L1173.2,1036.8 L1175.7,1037.1 L1178.1,1037.4 L1180.5,1037.7 L1183.0,1038.0 L1185.4,1038.4 L1187.8,1038.7 L1190.2,1039.1 L1192.6,1039.4 L1195.0,1039.8 L1197.5,1040.1 L1199.9,1040.5 L1202.3,1040.9 L1204.7,1041.3 L1207.1,1041.7 L1209.5,1042.1 L1211.9,1042.5 L1214.3,1042.9 L1216.7,1043.4 L1219.1,1043.8 L1221.6,1044.2 L1224.0,1044.7 L1226.4,1045.1 L1228.8,1045.6 L1231.2,1046.0 L1233.6,1046.5 L1236.0,1047.0 L1238.4,1047.5 L1240.8,1047.9 L1243.1,1048.4 L1245.5,1048.9 L1247.9,1049.4 L1250.3,1049.9 L1252.7,1050.4 L1255.1,1050.9 L1257.5,1051.5 L1259.9,1052.0 L1262.3,1052.5 L1264.7,1053.0 L1267.1,1053.6 L1269.5,1054.1 L1271.8,1054.6 L1274.2,1055.2 L1276.6,1055.7 L1279.0,1056.3 L1281.4,1056.8 L1283.8,1057.4 L1286.2,1057.9 L1288.5,1058.5 L1290.9,1059.0 L1293.3,1059.6 L1295.7,1060.1 L1298.1,1060.7 L1300.5,1061.3 L1302.8,1061.9 L1305.2,1062.4 L1307.6,1063.0 L1310.0,1063.6 L1312.4,1064.1 L1314.7,1064.7 L1317.1,1065.3 L1319.5,1065.9 L1321.9,1066.4 L1324.3,1067.0 L1326.7,1067.6 L1329.0,1068.2 L1331.4,1068.8 L1333.8,1069.3 L1336.2,1069.9 L1338.6,1070.5 L1340.9,1071.1 L1343.3,1071.7 L1345.7,1072.2 L1348.1,1072.8 L1350.5,1073.4 L1352.9,1074.0 L1355.2,1074.5 L1357.6,1075.1 L1360.0,1075.7 L1362.4,1076.3 L1364.8,1076.8 L1367.2,1077.4 L1369.5,1078.0 L1371.9,1078.5 L1374.3,1079.1 L1376.7,1079.6 L1379.1,1080.2 L1381.5,1080.7 L1383.9,1081.3 L1386.2,1081.8 L1388.6,1082.4 L1391.0,1082.9 L1393.4,1083.5 L1395.8,1084.0 L1398.2,1084.5 L1400.6,1085.1 L1403.0,1085.6 L1405.4,1086.1 L1407.8,1086.7 L1410.1,1087.2 L1412.5,1087.7 L1414.9,1088.2 L1417.3,1088.7 L1419.7,1089.2 L1422.1,1089.7 L1424.5,1090.2 L1426.9,1090.7 L1429.3,1091.2 L1431.7,1091.7 L1434.1,1092.2 L1436.5,1092.7 L1438.9,1093.2 L1441.3,1093.7 L1443.7,1094.1 L1446.1,1094.6 L1448.5,1095.1 L1450.9,1095.5 L1453.3,1096.0 L1455.7,1096.5 L1458.1,1096.9 L1460.5,1097.4 L1462.9,1097.8 L1465.4,1098.2 L1467.8,1098.7 L1470.2,1099.1 L1472.6,1099.5 L1475.0,1099.9 L1477.4,1100.4 L1479.8,1100.8 L1482.2,1101.2 L1484.6,1101.6 L1487.1,1102.0 L1489.5,1102.4 L1491.9,1102.8 L1494.3,1103.2 L1496.7,1103.5 L1499.2,1103.9 L1501.6,1104.3 L1504.0,1104.6 L1506.4,1105.0 L1508.8,1105.4 L1511.3,1105.7 L1513.7,1106.1 L1516.1,1106.4 L1518.5,1106.7 L1521.0,1107.1 L1523.4,1107.4 L1525.8,1107.7 L1528.3,1108.0 L1530.7,1108.3 L1533.1,1108.6 L1535.6,1108.9 L1538.0,1109.2 L1540.4,1109.5 L1542.9,1109.8 L1545.3,1110.0 L1547.7,1110.3 L1550.2,1110.6 L1552.6,1110.8 L1555.1,1111.1 L1557.5,1111.3 L1559.9,1111.5 L1562.4,1111.8 L1564.8,1112.0 L1567.3,1112.2 L1569.7,1112.4 L1572.2,1112.6 L1574.6,1112.8 L1577.1,1113.0 L1579.5,1113.2 L1582.0,1113.4 L1584.4,1113.6 L1586.9,1113.7 L1589.4,1113.9 L1591.8,1114.0 L1594.3,1114.2 L1596.7,1114.3 L1599.2,1114.4 L1601.7,1114.6 L1604.1,1114.7 L1606.6,1114.8 L1609.1,1114.9 L1611.5,1115.0 L1614.0,1115.1 L1616.5,1115.1 L1618.9,1115.2" fill="none" stroke="#c2c2c2" stroke-opacity="0.65" stroke-width="5.2" stroke-dasharray="13.4 5.7"/>
<line x1="1139.5" y1="21" x2="1139.5" y2="1301" stroke="#adadad" stroke-width="6" stroke-dasharray="12.5 6.6" stroke-dashoffset="11.5"/>
<rect x="341" y="18.5" width="1278.5" height="1285" fill="none" stroke="#000" stroke-width="5"/>
<line x1="317" y1="1303.5" x2="341" y2="1303.5" stroke="#000" stroke-width="7"/>
<line x1="317" y1="1062.9" x2="341" y2="1062.9" stroke="#000" stroke-width="7"/>
<line x1="317" y1="822.3" x2="341" y2="822.3" stroke="#000" stroke-width="7"/>
<line x1="317" y1="581.7" x2="341" y2="581.7" stroke="#000" stroke-width="7"/>
<line x1="317" y1="341.1" x2="341" y2="341.1" stroke="#000" stroke-width="7"/>
<line x1="317" y1="100.5" x2="341" y2="100.5" stroke="#000" stroke-width="7"/>
<line x1="650.0" y1="1303" x2="650.0" y2="1324" stroke="#000" stroke-width="5"/>
<line x1="955.8" y1="1303" x2="955.8" y2="1324" stroke="#000" stroke-width="5"/>
<line x1="1261.6" y1="1303" x2="1261.6" y2="1324" stroke="#000" stroke-width="5"/>
<line x1="1567.4" y1="1303" x2="1567.4" y2="1324" stroke="#000" stroke-width="5"/>
<text x="166.80" y="1326.20" font-family="Carlito, 'Liberation Sans', sans-serif" font-weight="bold" font-size="68.60" textLength="120.79" lengthAdjust="spacingAndGlyphs">0.00</text>
<text x="166.80" y="1085.50" font-family="Carlito, 'Liberation Sans', sans-serif" font-weight="bold" font-size="68.60" textLength="121.80" lengthAdjust="spacingAndGlyphs">0.02</text>
<text x="166.80" y="844.80" font-family="Carlito, 'Liberation Sans', sans-serif" font-weight="bold" font-size="68.60" textLength="119.79" lengthAdjust="spacingAndGlyphs">0.04</text>
<text x="166.80" y="603.10" font-family="Carlito, 'Liberation Sans', sans-serif" font-weight="bold" font-size="68.60" textLength="120.79" lengthAdjust="spacingAndGlyphs">0.06</text>
<text x="166.80" y="362.40" font-family="Carlito, 'Liberation Sans', sans-serif" font-weight="bold" font-size="68.60" textLength="120.79" lengthAdjust="spacingAndGlyphs">0.08</text>
<text x="166.80" y="122.70" font-family="Carlito, 'Liberation Sans', sans-serif" font-weight="bold" font-size="68.60" textLength="120.79" lengthAdjust="spacingAndGlyphs">0.10</text>
<text x="333.60" y="1392.40" font-family="Carlito, 'Liberation Sans', sans-serif" font-weight="bold" font-size="68.60" textLength="34.13" lengthAdjust="spacingAndGlyphs">0</text>
<text x="639.80" y="1392.40" font-family="Carlito, 'Liberation Sans', sans-serif" font-weight="bold" font-size="68.60" textLength="34.47" lengthAdjust="spacingAndGlyphs">4</text>
<text x="942.60" y="1391.40" font-family="Carlito, 'Liberation Sans', sans-serif" font-weight="bold" font-size="68.60" textLength="35.23" lengthAdjust="spacingAndGlyphs">8</text>
<text x="1232.00" y="1392.40" font-family="Carlito, 'Liberation Sans', sans-serif" font-weight="bold" font-size="68.60" textLength="71.45" lengthAdjust="spacingAndGlyphs">12</text>
<text x="1538.90" y="1391.40" font-family="Carlito, 'Liberation Sans', sans-serif" font-weight="bold" font-size="68.60" textLength="70.21" lengthAdjust="spacingAndGlyphs">16</text>
<text x="1504.30" y="93.70" font-family="Carlito, 'Liberation Sans', sans-serif" font-weight="bold" font-size="75.80" textLength="26.95" lengthAdjust="spacingAndGlyphs">r</text>
<text stroke="#000" stroke-width="0.7" x="1531.70" y="110.80" font-family="Carlito, 'Liberation Sans', sans-serif" font-size="35.40" textLength="57.64" lengthAdjust="spacingAndGlyphs">400</text>
<text x="1504.30" y="188.40" font-family="Carlito, 'Liberation Sans', sans-serif" font-weight="bold" font-size="75.80" textLength="26.95" lengthAdjust="spacingAndGlyphs">r</text>
<text stroke="#000" stroke-width="0.7" x="1530.70" y="203.00" font-family="Carlito, 'Liberation Sans', sans-serif" font-size="35.40" textLength="58.77" lengthAdjust="spacingAndGlyphs">350</text>
<text x="1504.30" y="282.80" font-family="Carlito, 'Liberation Sans', sans-serif" font-weight="bold" font-size="75.80" textLength="26.95" lengthAdjust="spacingAndGlyphs">r</text>
<text stroke="#000" stroke-width="0.7" x="1530.70" y="298.20" font-family="Carlito, 'Liberation Sans', sans-serif" font-size="35.40" textLength="58.77" lengthAdjust="spacingAndGlyphs">300</text>
<text x="1504.30" y="376.70" font-family="Carlito, 'Liberation Sans', sans-serif" font-weight="bold" font-size="75.80" textLength="26.95" lengthAdjust="spacingAndGlyphs">r</text>
<text stroke="#000" stroke-width="0.7" x="1530.70" y="391.40" font-family="Carlito, 'Liberation Sans', sans-serif" font-size="35.40" textLength="57.64" lengthAdjust="spacingAndGlyphs">250</text>
<g transform="translate(868.90,1490.90) skewX(-5) translate(-868.90,-1490.90)"><text x="868.90" y="1490.90" font-family="Carlito, 'Liberation Sans', sans-serif" font-weight="bold" font-style="italic" font-size="69.50" textLength="35.15" lengthAdjust="spacingAndGlyphs">C</text></g>
<text stroke="#000" stroke-width="0.7" x="900.40" y="1503.70" font-family="Carlito, 'Liberation Sans', sans-serif" font-size="33.00" textLength="28.90" lengthAdjust="spacingAndGlyphs">Bi</text>
<text x="930.90" y="1495.10" font-family="Carlito, 'Liberation Sans', sans-serif" font-weight="bold" font-size="69.50" textLength="26.49" lengthAdjust="spacingAndGlyphs">/</text>
<text x="960.90" y="1489.90" font-family="Carlito, 'Liberation Sans', sans-serif" font-weight="bold" font-size="69.50" textLength="140.17" lengthAdjust="spacingAndGlyphs">wt.%</text>
<text transform="translate(80.00,921.50) rotate(-90)" font-family="Carlito, 'Liberation Sans', sans-serif" font-weight="bold" font-size="68.50" textLength="200.50" lengthAdjust="spacingAndGlyphs"><tspan font-style="italic">r</tspan>/μmol</text>
<text stroke="#000" stroke-width="0.7" transform="translate(92.70,720.70) rotate(-90)" font-family="Carlito, 'Liberation Sans', sans-serif" font-size="33.50" textLength="62.89" lengthAdjust="spacingAndGlyphs">N2O</text>
<text transform="translate(80.90,643.80) rotate(-90)" font-family="Carlito, 'Liberation Sans', sans-serif" font-weight="bold" font-size="68.50" textLength="56.66" lengthAdjust="spacingAndGlyphs">m</text>
<text stroke="#000" stroke-width="0.7" transform="translate(46.10,589.00) rotate(-90)" font-family="Carlito, 'Liberation Sans', sans-serif" font-size="33.00" textLength="29.30" lengthAdjust="spacingAndGlyphs">-2</text>
<text transform="translate(80.90,545.80) rotate(-90)" font-family="Carlito, 'Liberation Sans', sans-serif" font-weight="bold" font-size="68.50" textLength="27.44" lengthAdjust="spacingAndGlyphs">s</text>
<text stroke="#000" stroke-width="0.7" transform="translate(46.10,517.70) rotate(-90)" font-family="Carlito, 'Liberation Sans', sans-serif" font-size="33.00" textLength="29.19" lengthAdjust="spacingAndGlyphs">-1</text>
<text transform="translate(1107.40,625.50) rotate(-90)" font-family="'Liberation Sans', Arial, sans-serif" fill="#303030" font-size="61.00" textLength="464.40" lengthAdjust="spacingAndGlyphs">segregation of Bi</text>
<text transform="translate(1120.50,163.40) rotate(-90)" font-family="'Liberation Sans', Arial, sans-serif" fill="#303030" font-size="34.00" textLength="16.65" lengthAdjust="spacingAndGlyphs">2</text>
<text transform="translate(1104.90,145.60) rotate(-90)" font-family="'Liberation Sans', Arial, sans-serif" fill="#303030" font-size="61.00" textLength="47.00" lengthAdjust="spacingAndGlyphs">O</text>
<text transform="translate(1120.50,99.40) rotate(-90)" font-family="'Liberation Sans', Arial, sans-serif" fill="#303030" font-size="34.00" textLength="18.80" lengthAdjust="spacingAndGlyphs">3</text>
<circle cx="1465" cy="71.7" r="16" fill="#b80e48"/>
<circle cx="1465" cy="166.9" r="16" fill="#f09825"/>
<circle cx="1465" cy="260.8" r="16" fill="#2b6869"/>
<circle cx="1465" cy="353.6" r="16" fill="#404040"/>
</svg>
</body></html>
